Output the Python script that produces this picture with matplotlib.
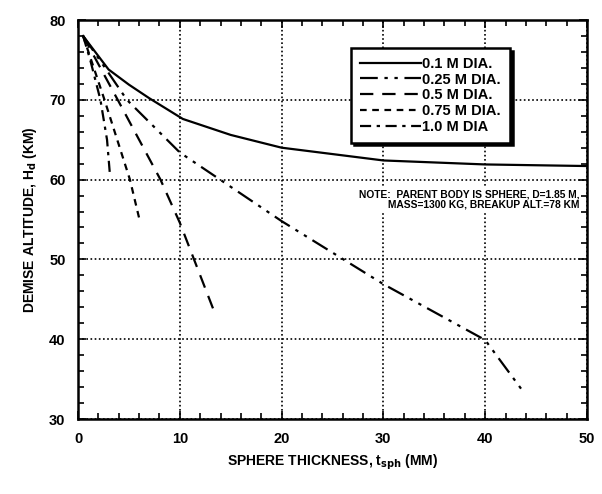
import matplotlib
matplotlib.use("Agg")
import matplotlib.pyplot as plt
from matplotlib.ticker import MultipleLocator

plt.rcParams['font.family'] = ['Liberation Sans', 'DejaVu Sans']
plt.rcParams['font.weight'] = 'bold'
plt.rcParams['mathtext.default'] = 'bf'

# curves (thickness mm, demise altitude km)
t_01 = [0.5, 3.0, 5.0, 7.0, 10.3, 15.0, 20.0, 30.0, 40.0, 50.0]
h_01 = [78.0, 73.8, 71.9, 70.2, 67.6, 65.6, 64.0, 62.4, 61.9, 61.7]

t_025 = [0.5, 2.5, 4.8, 10.0, 20.0, 30.0, 40.0, 43.7]
h_025 = [78.0, 74.3, 70.0, 63.4, 54.8, 46.9, 39.9, 33.5]

t_05 = [0.5, 3.9, 8.1, 10.0, 13.4]
h_05 = [78.0, 70.0, 60.0, 54.6, 43.4]

t_075 = [0.5, 2.6, 5.1, 6.0]
h_075 = [78.0, 70.0, 60.0, 55.2]

t_10 = [0.5, 1.2, 2.2, 2.85, 3.15]
h_10 = [78.0, 75.0, 70.0, 65.0, 60.4]

labels = ['0.1 M DIA.', '0.25 M DIA.', '0.5 M DIA.', '0.75 M DIA.', '1.0 M DIA']

fig = plt.figure(figsize=(6.02, 4.94), dpi=100)
ax = fig.add_axes([0.1296, 0.1518, 0.8454, 0.8077])

lw = 1.6
ax.plot(t_01, h_01, color='k', lw=lw, linestyle='-', label=labels[0])
ax.plot(t_025, h_025, color='k', lw=lw, linestyle=(0, (8, 3, 1.5, 3, 1.5, 3)), label=labels[1])
ax.plot(t_05, h_05, color='k', lw=lw, linestyle=(0, (6, 4)), label=labels[2])
ax.plot(t_075, h_075, color='k', lw=lw, linestyle=(0, (3, 2.5)), label=labels[3])
ax.plot(t_10, h_10, color='k', lw=lw, linestyle=(0, (5, 2.5, 1.5, 2.5)), label=labels[4])

ax.set_xlim(0, 50)
ax.set_ylim(30, 80)
ax.xaxis.set_major_locator(MultipleLocator(10))
ax.xaxis.set_minor_locator(MultipleLocator(2))
ax.yaxis.set_major_locator(MultipleLocator(10))
ax.yaxis.set_minor_locator(MultipleLocator(2))
ax.tick_params(which='both', direction='in', top=True, right=True, width=1.2)
ax.tick_params(which='major', length=6, labelsize=10.5, pad=9)
ax.tick_params(which='minor', length=4)
for s in ax.spines.values():
    s.set_linewidth(1.8)

ax.grid(True, which='major', color='k', linestyle=(0, (1, 1.5)), linewidth=1.2)

ax.set_xlabel('SPHERE THICKNESS, t$_{sph}$ (MM)', fontsize=10, fontweight='bold', labelpad=5)
ax.set_ylabel('DEMISE ALTITUDE, H$_d$ (KM)', fontsize=10, fontweight='bold', labelpad=7)

ax.text(0.985, 0.55, 'NOTE:  PARENT BODY IS SPHERE, D=1.85 M,\nMASS=1300 KG, BREAKUP ALT.=78 KM',
        transform=ax.transAxes, ha='right', va='center', fontsize=7.4,
        fontweight='bold', linespacing=1.0,
        bbox=dict(facecolor='white', edgecolor='none', pad=1))

leg = ax.legend(loc='upper left', bbox_to_anchor=(0.522, 0.948), fontsize=10.5,
                handlelength=4.2, handletextpad=0.1, labelspacing=0.12,
                borderpad=0.6, fancybox=False, framealpha=1,
                shadow={'color': 'k', 'alpha': 1})
leg.get_frame().set_edgecolor('k')
leg.get_frame().set_linewidth(1.8)

fig.savefig('out.png', dpi=100)
